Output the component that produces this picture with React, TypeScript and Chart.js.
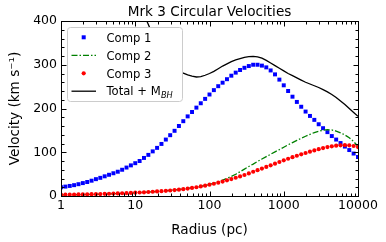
import { useEffect, useRef } from 'react';
import { Chart, registerables } from 'chart.js';

Chart.register(...registerables);

// Sampling grid: 69 log-spaced radii from 1 to 10000 pc
const radii: number[] = Array.from({ length: 69 }, (_, k) => Math.pow(10, (k * 4) / 68));

const comp1: number[] = [
  20, 21.5, 23, 24.8, 27, 29.5, 32, 35, 38.5, 41.5,
  45, 48.5, 52, 55.5, 60, 65, 70, 75, 80, 87,
  94, 102, 110, 119, 129, 139, 149, 160, 171, 182,
  192, 202, 212, 222, 232, 242, 251, 259, 267, 275,
  282, 288, 293, 297, 300, 300, 298, 294, 287, 278,
  266, 253, 240, 227, 215, 204, 193, 183, 174, 164,
  155, 146, 137, 129, 121, 113, 105, 97, 89,
];

const comp2: number[] = [
  2.5, 2.6, 2.8, 2.9, 3.1, 3.3, 3.5, 3.7, 3.9, 4.2,
  4.5, 4.8, 5.1, 5.5, 5.9, 6.3, 6.8, 7.3, 7.8, 8.4,
  9.0, 9.7, 10.4, 11.2, 12.0, 12.9, 13.9, 15.0, 16.2, 17.5,
  19.0, 20.6, 22.3, 24.1, 26.5, 29.3, 32.5, 36.2, 40.3, 44.8,
  49.7, 55.5, 61.5, 67.5, 73, 79, 84.5, 90, 95.5, 101,
  106, 111.5, 117, 122, 127, 132, 136.5, 141, 145, 148,
  150.5, 151.5, 151, 148.5, 144.5, 139.5, 133, 124.5, 113,
];

const comp3: number[] = [
  3.0, 3.1, 3.3, 3.4, 3.6, 3.8, 4.0, 4.2, 4.4, 4.6,
  4.9, 5.2, 5.5, 5.9, 6.3, 6.7, 7.1, 7.5, 8.0, 8.5,
  9.1, 9.7, 10.4, 11.1, 11.8, 12.6, 13.5, 14.5, 15.7, 17.0,
  18.4, 20.0, 21.8, 23.7, 25.8, 28.0, 30.4, 33.0, 35.8, 38.7,
  41.7, 44.8, 48.0, 51.7, 55.4, 59.1, 62.8, 66.5, 70.2, 73.9,
  77.7, 81.5, 85.2, 88.7, 92.0, 95.2, 98.3, 101.3, 104.2, 107.0,
  109.6, 111.8, 113.6, 115.0, 115.9, 116.2, 115.8, 114.3, 111.8,
];

// Total + M_BH, starting at grid index 18
const totalStart = 18;
const total: number[] = [
  445, 415, 392, 368, 350, 334, 318, 305, 295, 287,
  281, 277, 274, 272, 273, 276, 280, 285, 291, 297,
  302, 307, 311, 314, 317, 318.5, 319, 318, 315, 310,
  304, 298, 292, 286, 280, 275, 270, 265, 260, 256,
  252, 248, 243, 238, 232, 225, 217, 209, 200, 191, 182,
];

const xTickValues: number[] = [1, 10, 100, 1000, 10000];
const xTickLabels: string[] = ['1', '10', '100', '1000', '10000'];
const xMinorValues: number[] = [2, 3, 4, 5, 6, 7, 8, 9, 20, 30, 40, 50, 60, 70, 80, 90, 200, 300, 400, 500, 600, 700, 800, 900, 2000, 3000, 4000, 5000, 6000, 7000, 8000, 9000];
const yTickValues: number[] = [0, 100, 200, 300, 400];
const yMinorValues: number[] = [20, 40, 60, 80, 120, 140, 160, 180, 220, 240, 260, 280, 320, 340, 360, 380];

const legendLabels: string[] = ['Comp 1', 'Comp 2', 'Comp 3', 'Total + M'];

const FONT = 'DejaVu Sans';

const framePlugin = {
  id: 'mplFrame',
  afterDraw(chart: any) {
    const { ctx, chartArea: a, scales } = chart;
    const xs = scales.x;
    const ys = scales.y;
    const L = Math.round(a.left) + 0.5;
    const R = Math.round(a.right) + 0.5;
    const T = Math.round(a.top) + 0.5;
    const B = Math.round(a.bottom) + 0.5;
    ctx.save();
    ctx.strokeStyle = '#000';
    ctx.lineWidth = 1;
    ctx.setLineDash([]);
    ctx.beginPath();
    const xt = (v: number, len: number) => {
      const px = Math.round(xs.getPixelForValue(v)) + 0.5;
      ctx.moveTo(px, B); ctx.lineTo(px, B - len);
      ctx.moveTo(px, T); ctx.lineTo(px, T + len);
    };
    const yt = (v: number, len: number) => {
      const py = Math.round(ys.getPixelForValue(v)) + 0.5;
      ctx.moveTo(L, py); ctx.lineTo(L + len, py);
      ctx.moveTo(R, py); ctx.lineTo(R - len, py);
    };
    xTickValues.forEach((v) => xt(v, 5));
    xMinorValues.forEach((v) => xt(v, 3));
    yTickValues.forEach((v) => yt(v, 5));
    yMinorValues.forEach((v) => yt(v, 3));
    ctx.stroke();
    ctx.strokeRect(L, T, R - L, B - T);

    // Legend
    const lx = 67.5, ly = 27.5, lw = 115, lh = 74, rr = 3;
    ctx.beginPath();
    ctx.moveTo(lx + rr, ly);
    ctx.lineTo(lx + lw - rr, ly);
    ctx.quadraticCurveTo(lx + lw, ly, lx + lw, ly + rr);
    ctx.lineTo(lx + lw, ly + lh - rr);
    ctx.quadraticCurveTo(lx + lw, ly + lh, lx + lw - rr, ly + lh);
    ctx.lineTo(lx + rr, ly + lh);
    ctx.quadraticCurveTo(lx, ly + lh, lx, ly + lh - rr);
    ctx.lineTo(lx, ly + rr);
    ctx.quadraticCurveTo(lx, ly, lx + rr, ly);
    ctx.closePath();
    ctx.fillStyle = '#ffffff';
    ctx.fill();
    ctx.strokeStyle = '#cccccc';
    ctx.stroke();

    const rows = [37.3, 55.3, 73.3, 91.2];
    const hx0 = 71.5, hx1 = 96, hc = 83.7;
    // Comp 1 marker
    ctx.fillStyle = '#0000ff';
    ctx.fillRect(hc - 2, rows[0] - 2, 4, 4);
    // Comp 2 line
    ctx.strokeStyle = '#008000';
    ctx.lineWidth = 1.3;
    ctx.setLineDash([6, 2, 1.5, 2]);
    ctx.beginPath();
    ctx.moveTo(hx0, rows[1]); ctx.lineTo(hx1, rows[1]);
    ctx.stroke();
    ctx.setLineDash([]);
    // Comp 3 marker
    ctx.fillStyle = '#ff0000';
    ctx.beginPath();
    ctx.arc(hc, rows[2], 2.1, 0, Math.PI * 2);
    ctx.fill();
    // Total line
    ctx.strokeStyle = '#000';
    ctx.beginPath();
    ctx.moveTo(hx0, rows[3]); ctx.lineTo(hx1, rows[3]);
    ctx.stroke();

    ctx.fillStyle = '#000';
    ctx.textAlign = 'left';
    ctx.textBaseline = 'alphabetic';
    const tx = 106.5;
    legendLabels.forEach((t, i) => {
      ctx.font = `11.6px "${FONT}"`;
      ctx.fillText(t, tx, rows[i] + 4.2);
      if (i === 3) {
        const w = ctx.measureText(t).width;
        ctx.font = `italic 8.2px "${FONT}"`;
        ctx.fillText('BH', tx + w + 0.3, rows[i] + 6.3);
      }
    });

    // Title
    const cx = (a.left + a.right) / 2;
    ctx.font = `13.6px "${FONT}"`;
    ctx.textAlign = 'center';
    ctx.fillText('Mrk 3 Circular Velocities', cx, 16);
    // X axis title
    ctx.fillText('Radius (pc)', cx, 233.5);
    // Y axis title
    ctx.save();
    ctx.translate(18.5, (a.top + a.bottom) / 2);
    ctx.rotate(-Math.PI / 2);
    ctx.fillText('Velocity (km s\u207B\u00B9)', 0, 0);
    ctx.restore();

    ctx.restore();
  },
};

export default function App() {
  const ref = useRef<HTMLCanvasElement | null>(null);

  useEffect(() => {
    document.body.style.margin = '0';
    const canvas = ref.current;
    if (!canvas) return;

    const pts = (vals: number[], start = 0) =>
      vals.map((v, i) => ({ x: radii[i + start], y: v }));

    const chart = new Chart(canvas, {
      type: 'scatter',
      data: {
        datasets: [
          {
            label: 'Comp 1',
            data: pts(comp1),
            showLine: false,
            pointStyle: 'rect',
            pointRadius: 2.8,
            backgroundColor: '#0000ff',
            borderColor: '#0000ff',
            pointBorderWidth: 0,
            order: 4,
            clip: 0,
          },
          {
            label: 'Comp 2',
            data: pts(comp2),
            showLine: true,
            pointRadius: 0,
            borderColor: '#008000',
            borderWidth: 1.3,
            borderDash: [6, 2, 1.5, 2],
            order: 3,
            clip: 0,
          },
          {
            label: 'Comp 3',
            data: pts(comp3),
            showLine: false,
            pointStyle: 'circle',
            pointRadius: 2.1,
            backgroundColor: '#ff0000',
            borderColor: '#ff0000',
            pointBorderWidth: 0,
            order: 2,
            clip: 0,
          },
          {
            label: 'Total + M_BH',
            data: pts(total, totalStart),
            showLine: true,
            pointRadius: 0,
            borderColor: '#000000',
            borderWidth: 1.3,
            order: 1,
            clip: 0,
          },
        ] as any,
      },
      options: {
        animation: false,
        responsive: false,
        devicePixelRatio: 1,
        events: [],
        layout: { padding: { top: 21, right: 28, bottom: 0, left: 0 } },
        plugins: {
          legend: { display: false },
          title: { display: false },
          tooltip: { enabled: false },
        },
        scales: {
          x: {
            type: 'logarithmic',
            min: 1,
            max: 10000,
            grid: { display: false, drawTicks: false },
            border: { display: false },
            afterBuildTicks: (s: any) => {
              s.ticks = xTickValues.map((v) => ({ value: v }));
            },
            afterFit: (s: any) => {
              s.height = 46;
            },
            ticks: {
              autoSkip: false,
              maxRotation: 0,
              padding: 2,
              color: '#000',
              font: { family: FONT, size: 12.5 },
              callback: (v: any) => {
                const i = xTickValues.indexOf(Number(v));
                return i >= 0 ? xTickLabels[i] : '';
              },
            },
          },
          y: {
            type: 'linear',
            min: 0,
            max: 400,
            grid: { display: false, drawTicks: false },
            border: { display: false },
            afterFit: (s: any) => {
              s.width = 61;
            },
            ticks: {
              stepSize: 100,
              padding: 4,
              color: '#000',
              font: { family: FONT, size: 12.5 },
            },
          },
        },
      } as any,
      plugins: [framePlugin],
    });

    return () => {
      chart.destroy();
    };
  }, []);

  return (
    <div style={{ width: 386, height: 242, position: 'relative', background: '#fff' }}>
      <canvas ref={ref} width={386} height={242} style={{ display: 'block' }} />
    </div>
  );
}
